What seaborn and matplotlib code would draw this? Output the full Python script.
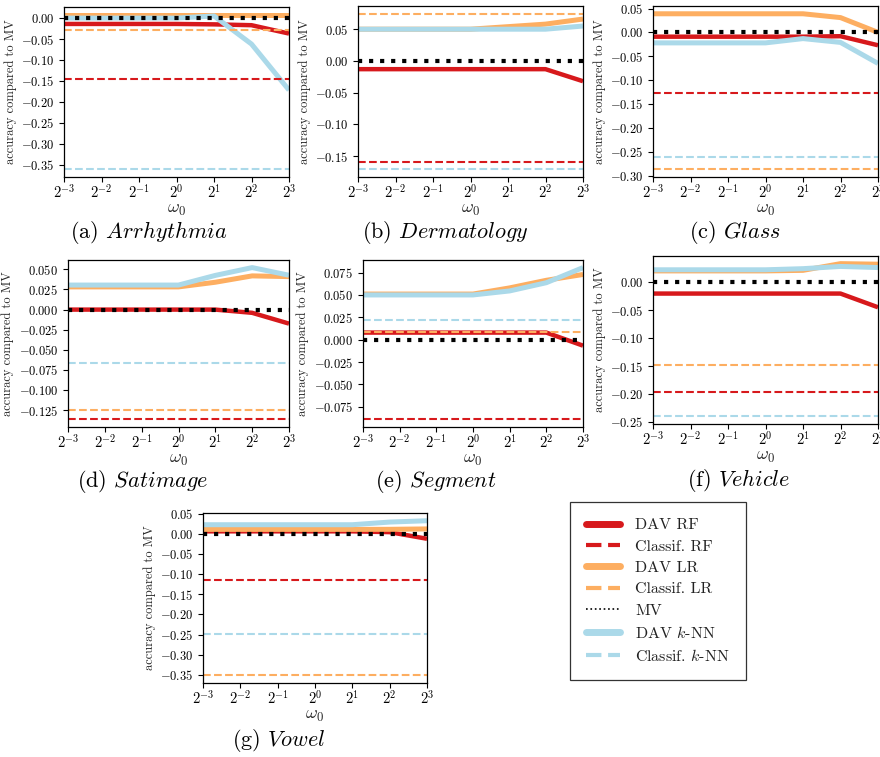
import numpy as np
import pandas as pd
import matplotlib
matplotlib.use("Agg")
import matplotlib.pyplot as plt
import matplotlib.ticker as mticker
from matplotlib.lines import Line2D
import seaborn as sns

# ---------------- data ----------------
OMEGA = [2**-3, 2**-2, 2**-1, 2**0, 2**1, 2**2, 2**3]
OMEGA_TICKS = OMEGA
MV_LEVEL = 0.0

# (a) Arrhythmia
ARR_DAV_RF = [-0.014, -0.014, -0.014, -0.014, -0.015, -0.017, -0.037]
ARR_DAV_LR = [0.008, 0.008, 0.008, 0.008, 0.008, 0.008, 0.008]
ARR_DAV_KNN = [0.000, 0.000, 0.000, 0.000, 0.005, -0.062, -0.172]
ARR_CLASSIF = [-0.146, -0.028, -0.361]          # RF, LR, k-NN

# (b) Dermatology
DER_DAV_RF = [-0.013, -0.013, -0.013, -0.013, -0.013, -0.013, -0.032]
DER_DAV_LR = [0.050, 0.050, 0.050, 0.050, 0.054, 0.058, 0.066]
DER_DAV_KNN = [0.050, 0.050, 0.050, 0.050, 0.050, 0.050, 0.055]
DER_CLASSIF = [-0.1595, 0.0743, -0.1707]

# (c) Glass
GLA_DAV_RF = [-0.009, -0.009, -0.009, -0.009, -0.009, -0.008, -0.027]
GLA_DAV_LR = [0.039, 0.039, 0.039, 0.039, 0.039, 0.031, 0.000]
GLA_DAV_KNN = [-0.022, -0.022, -0.022, -0.022, -0.013, -0.021, -0.065]
GLA_CLASSIF = [-0.1266, -0.2867, -0.262]

# (d) Satimage
SAT_DAV_RF = [0.000, 0.000, 0.000, 0.000, 0.000, -0.004, -0.0174]
SAT_DAV_LR = [0.0282, 0.0282, 0.0282, 0.0282, 0.034, 0.0419, 0.041]
SAT_DAV_KNN = [0.0305, 0.0305, 0.0305, 0.0305, 0.0425, 0.0522, 0.0427]
SAT_CLASSIF = [-0.1364, -0.1252, -0.0663]

# (e) Segment
SEG_DAV_RF = [0.0079, 0.0079, 0.0079, 0.0079, 0.0079, 0.0079, -0.0067]
SEG_DAV_LR = [0.051, 0.051, 0.051, 0.051, 0.0579, 0.0664, 0.0729]
SEG_DAV_KNN = [0.050, 0.050, 0.050, 0.050, 0.0545, 0.0637, 0.0806]
SEG_CLASSIF = [-0.0892, 0.0082, 0.0217]

# (f) Vehicle
VEH_DAV_RF = [-0.0205, -0.0205, -0.0205, -0.0205, -0.0205, -0.0205, -0.045]
VEH_DAV_LR = [0.020, 0.020, 0.020, 0.020, 0.021, 0.033, 0.032]
VEH_DAV_KNN = [0.022, 0.022, 0.022, 0.022, 0.024, 0.028, 0.026]
VEH_CLASSIF = [-0.196, -0.1475, -0.240]

# (g) Vowel
VOW_DAV_RF = [0.006, 0.006, 0.006, 0.006, 0.006, 0.004, -0.0124]
VOW_DAV_LR = [0.0108, 0.0108, 0.0108, 0.0108, 0.0108, 0.011, 0.012]
VOW_DAV_KNN = [0.0224, 0.0224, 0.0224, 0.0224, 0.0224, 0.029, 0.0323]
VOW_CLASSIF = [-0.115, -0.3508, -0.2487]

CAPTIONS = ["(a)", "(b)", "(c)", "(d)", "(e)", "(f)", "(g)"]
NAMES = ["Arrhythmia", "Dermatology", "Glass", "Satimage", "Segment", "Vehicle", "Vowel"]
LEGEND_LABELS = ["DAV RF", "Classif. RF", "DAV LR", "Classif. LR", "MV",
                 "DAV $k$-NN", "Classif. $k$-NN"]

DATASETS = [
    (ARR_DAV_RF, ARR_DAV_LR, ARR_DAV_KNN, ARR_CLASSIF),
    (DER_DAV_RF, DER_DAV_LR, DER_DAV_KNN, DER_CLASSIF),
    (GLA_DAV_RF, GLA_DAV_LR, GLA_DAV_KNN, GLA_CLASSIF),
    (SAT_DAV_RF, SAT_DAV_LR, SAT_DAV_KNN, SAT_CLASSIF),
    (SEG_DAV_RF, SEG_DAV_LR, SEG_DAV_KNN, SEG_CLASSIF),
    (VEH_DAV_RF, VEH_DAV_LR, VEH_DAV_KNN, VEH_CLASSIF),
    (VOW_DAV_RF, VOW_DAV_LR, VOW_DAV_KNN, VOW_CLASSIF),
]

# ---------------- style ----------------
sns.set_style("ticks")
plt.rcParams["font.family"] = ["cmr10", "DejaVu Serif"]
plt.rcParams["mathtext.fontset"] = "cm"
plt.rcParams["axes.formatter.use_mathtext"] = True
plt.rcParams["axes.unicode_minus"] = True
plt.rcParams["axes.edgecolor"] = "black"
plt.rcParams["xtick.color"] = "black"
plt.rcParams["ytick.color"] = "black"
plt.rcParams["text.color"] = "#222222"

RED = "#d7191c"
ORANGE = "#fdae61"
BLUE = "#abd9e9"
W, H = 880, 757

# axes boxes in pixels: left, top, right, bottom
BOXES = [
    (64, 7, 289, 177),
    (358, 6, 583, 177),
    (653, 6, 878, 177),
    (68, 260, 289, 427),
    (363, 260, 583, 427),
    (653, 256, 878, 424),
    (203, 513, 427, 683),
]
YSTEPS = [0.05, 0.05, 0.05, 0.025, 0.025, 0.05, 0.05]
CAP_POS = [(149, 233), (445, 233), (735, 233), (143, 482), (436, 482), (739, 481), (279, 740)]

fig = plt.figure(figsize=(W / 100, H / 100), dpi=100)

for i, (rf, lr, knn, clf) in enumerate(DATASETS):
    l, t, r, b = BOXES[i]
    ax = fig.add_axes([l / W, 1 - b / H, (r - l) / W, (b - t) / H])
    sns.lineplot(x=OMEGA, y=rf, ax=ax, color=RED, linewidth=3.2,
                 solid_capstyle="butt", legend=False)
    sns.lineplot(x=OMEGA, y=lr, ax=ax, color=ORANGE, linewidth=3.6,
                 solid_capstyle="butt", legend=False)
    sns.lineplot(x=OMEGA, y=knn, ax=ax, color=BLUE, linewidth=3.6,
                 solid_capstyle="butt", legend=False)
    ax.axhline(clf[0], color=RED, linestyle="--", linewidth=1.5)
    ax.axhline(clf[1], color=ORANGE, linestyle="--", linewidth=1.5)
    ax.axhline(clf[2], color=BLUE, linestyle="--", linewidth=1.5)
    ax.axhline(MV_LEVEL, color="black", linestyle=":", linewidth=3.0)

    allv = np.concatenate([rf, lr, knn, clf, [MV_LEVEL]])
    lo, hi = allv.min(), allv.max()
    pad = 0.05 * (hi - lo)
    ax.set_ylim(lo - pad, hi + pad)

    ax.set_xscale("log", base=2)
    ax.set_xlim(OMEGA_TICKS[0], OMEGA_TICKS[-1])
    ax.set_xticks(OMEGA_TICKS)
    ax.xaxis.set_major_formatter(mticker.LogFormatterMathtext(base=2))
    ax.xaxis.set_minor_locator(mticker.NullLocator())
    ax.yaxis.set_major_locator(mticker.MultipleLocator(YSTEPS[i]))
    ax.tick_params(axis="y", labelsize=9, length=3.5, width=0.8)
    ax.tick_params(axis="x", labelsize=10.5, length=3.5, width=0.8, pad=1)
    ax.set_xlabel(r"$\omega_0$", fontsize=13, labelpad=1)
    ax.set_ylabel("accuracy compared to MV", fontsize=9, labelpad=3)
    for s in ax.spines.values():
        s.set_linewidth(0.9)
    cx, cy = CAP_POS[i]
    fig.text(cx / W, 1 - cy / H, CAPTIONS[i] + r" $\mathit{" + NAMES[i] + "}$",
             ha="center", va="center", fontsize=16, color="black")

handles = [
    Line2D([], [], color=RED, linewidth=5),
    Line2D([], [], color=RED, linewidth=3, linestyle="--"),
    Line2D([], [], color=ORANGE, linewidth=5),
    Line2D([], [], color=ORANGE, linewidth=3, linestyle="--"),
    Line2D([], [], color="black", linewidth=1.2, linestyle=":"),
    Line2D([], [], color=BLUE, linewidth=5),
    Line2D([], [], color=BLUE, linewidth=3, linestyle="--"),
]
leg = fig.legend(handles, LEGEND_LABELS, loc="upper left",
                 bbox_to_anchor=(570 / W, 1 - 502 / H), fontsize=11.5,
                 frameon=True, fancybox=False, edgecolor="black",
                 handlelength=2.1, handletextpad=1.0, labelspacing=0.45,
                 borderpad=1.0, borderaxespad=0)
leg.get_frame().set_linewidth(0.9)

fig.savefig("out.png", dpi=100)
